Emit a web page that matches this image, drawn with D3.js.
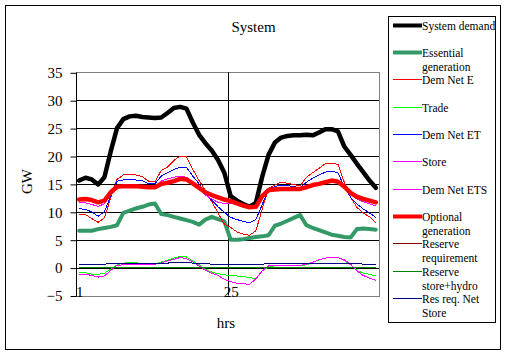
<!DOCTYPE html>
<html><head><meta charset="utf-8">
<script src="https://cdn.jsdelivr.net/npm/d3@7"></script>
<style>html,body{margin:0;padding:0;background:#fff;}svg{display:block;}</style>
</head><body>
<svg id="chart" width="507" height="355"></svg>
<script>
const categories = [1,2,3,4,5,6,7,8,9,10,11,12,13,14,15,16,17,18,19,20,21,22,23,24,25,26,27,28,29,30,31,32,33,34,35,36,37,38,39,40,41,42,43,44,45,46,47,48];
const xTickLabels = [1, 25];
const yTicks = [-5, 0, 5, 10, 15, 20, 25, 30, 35];

const systemDemand = [15.6,16.1,15.8,14.9,16.2,20.8,25.0,26.6,27.1,27.2,27.0,26.9,26.8,26.9,27.7,28.6,28.8,28.5,26.0,23.8,22.3,21.0,19.3,17.0,12.8,12.0,11.4,10.9,11.6,16.3,20.2,22.4,23.3,23.6,23.7,23.7,23.8,23.7,24.2,24.8,24.8,24.4,21.7,20.2,18.6,17.1,15.6,14.3];
const essentialGen = [6.6,6.6,6.6,6.9,7.1,7.3,7.6,9.8,10.2,10.6,10.9,11.3,11.5,9.6,9.4,9.1,8.8,8.5,8.2,7.7,8.6,9.1,8.7,8.3,5.0,5.0,5.1,5.3,5.5,5.6,5.8,7.5,7.9,8.4,8.9,9.4,7.6,7.1,6.7,6.3,5.9,5.7,5.5,5.4,6.9,7.0,6.9,6.8];
const demNetE = [9.6,9.5,8.8,8.1,8.9,12.5,15.8,16.6,16.6,16.6,16.3,15.5,15.4,17.4,18.0,19.2,20.0,19.9,17.6,15.6,13.8,11.8,9.8,7.8,7.2,6.4,6.0,5.8,6.6,10.5,14.2,14.8,15.3,15.1,14.9,14.6,16.2,17.0,17.8,18.6,18.7,18.5,15.3,12.6,10.8,9.8,9.1,8.0];
const trade = [-0.9,-0.9,-1.2,-1.2,-1.0,-0.3,0.5,0.8,0.9,0.9,0.7,0.7,0.6,1.0,1.3,1.7,2.0,1.9,1.2,0.5,-0.3,-0.8,-1.1,-1.3,-1.4,-1.5,-1.6,-1.8,-2.0,-0.6,0.2,0.3,0.3,0.3,0.3,0.3,0.5,0.9,1.4,1.7,1.9,1.8,1.3,0.5,-0.5,-1.0,-1.2,-1.5];
const demNetET = [10.6,10.4,10.0,9.2,10.0,12.8,15.5,15.7,15.8,15.7,15.6,15.0,15.0,16.4,17.0,17.6,18.0,18.0,16.4,15.0,13.3,12.1,10.9,9.9,9.0,8.6,8.3,8.0,8.6,11.3,14.1,14.5,14.8,14.7,14.5,14.3,15.3,16.0,16.6,17.1,17.3,17.0,14.5,12.6,11.4,10.5,9.8,9.0];
const store = [-1.2,-1.2,-1.4,-1.7,-1.5,-0.5,0.4,0.5,0.5,0.5,0.5,0.5,0.6,0.8,1.2,1.5,1.8,1.6,1.0,0.3,-0.5,-1.0,-1.4,-2.1,-2.5,-2.8,-2.9,-3.0,-2.0,-0.6,0.3,0.4,0.4,0.4,0.4,0.4,0.6,1.0,1.4,1.7,1.9,1.8,1.4,0.6,-0.6,-1.4,-1.9,-2.3];
const demNetETS = [11.6,11.6,11.3,11.0,11.4,13.0,14.3,14.5,14.6,14.6,14.5,14.4,14.4,15.5,15.9,16.2,16.4,16.2,15.2,14.0,13.0,12.3,11.7,11.5,11.5,11.3,11.1,10.9,11.0,12.5,13.8,14.0,14.1,14.1,14.1,14.0,14.3,14.8,15.1,15.4,15.6,15.3,14.3,13.1,12.3,11.8,11.4,11.1];
const optionalGen = [12.2,12.3,12.1,11.7,12.0,13.5,14.5,14.6,14.6,14.6,14.5,14.4,14.4,15.0,15.2,15.5,15.9,15.8,15.1,14.3,13.5,13.0,12.6,12.2,11.9,11.5,11.1,10.8,10.9,12.8,13.9,14.0,14.1,14.1,14.1,14.1,14.4,14.8,15.0,15.3,15.6,15.4,14.5,13.4,12.7,12.3,12.0,11.7];
const reserveReq = [0.6,0.6,0.6,0.6,0.6,0.8,0.8,0.8,0.8,0.8,0.8,0.8,0.8,0.8,0.8,0.95,0.95,0.95,0.8,0.8,0.8,0.6,0.6,0.6,0.6,0.6,0.6,0.6,0.6,0.6,0.8,0.8,0.8,0.8,0.8,0.8,0.8,0.8,0.8,0.8,0.8,0.8,0.8,0.8,0.8,0.6,0.6,0.6];
const reserveStoreHydro = [0,0,0,0,0,0,0,0,0,0,0,0,0,0,0,0,0,0,0,0,0,0,0,0,0,0,0,0,0,0,0,0,0,0,0,0,0,0,0,0,0,0,0,0,0,0,0,0];
const resReqNetStore = [0.6,0.6,0.6,0.6,0.6,0.8,0.8,0.8,0.8,0.8,0.8,0.8,0.8,0.8,0.8,0.95,0.95,0.95,0.8,0.8,0.8,0.6,0.6,0.6,0.6,0.6,0.6,0.6,0.6,0.6,0.8,0.8,0.8,0.8,0.8,0.8,0.8,0.8,0.8,0.8,0.8,0.8,0.8,0.8,0.8,0.6,0.6,0.6];

const seriesNames = ["System demand","Essential generation","Dem Net E","Trade","Dem Net ET","Store","Dem Net ETS","Optional generation","Reserve requirement","Reserve store+hydro","Res req. Net Store"];
const legendLines = [["System demand"],["Essential","generation"],["Dem Net E"],["Trade"],["Dem Net ET"],["Store"],["Dem Net ETS"],["Optional","generation"],["Reserve","requirement"],["Reserve","store+hydro"],["Res req. Net","Store"]];
const seriesValues = [systemDemand, essentialGen, demNetE, trade, demNetET, store, demNetETS, optionalGen, reserveReq, reserveStoreHydro, resReqNetStore];
const seriesColors = ["#000000","#339966","#ff0000","#00ff00","#0000ff","#ff00ff","#ff00ff","#ff0000","#800000","#008000","#000080"];
const seriesWidths = [4.5,4,1,1,1,1,1,4.5,1,1,1];

const FONT = "'Liberation Serif','Times New Roman',serif";
const svg = d3.select("#chart");

// chart frame
svg.append("rect").attr("x",5.5).attr("y",5.5).attr("width",495).attr("height",344)
  .attr("fill","#fff").attr("stroke","#000").attr("stroke-width",1);

const plot = {left:76, right:379, top:72.3, bottom:295.5};
const x = d3.scalePoint().domain(categories).range([plot.left, plot.right]).padding(0.5);
const y = d3.scaleLinear().domain([-5,35]).range([plot.bottom, plot.top]);

// gridlines
svg.append("g").selectAll("line").data(yTicks.filter(t => t > -5 && t < 35)).join("line")
  .attr("x1",plot.left).attr("x2",plot.right)
  .attr("y1",d=>Math.round(y(d))+0.5).attr("y2",d=>Math.round(y(d))+0.5)
  .attr("stroke","#000").attr("stroke-width",1);

// plot border (gray)
svg.append("rect").attr("x",plot.left+0.5).attr("y",Math.round(plot.top)+0.5)
  .attr("width",plot.right-plot.left).attr("height",Math.round(plot.bottom)-Math.round(plot.top))
  .attr("fill","none").attr("stroke","#808080").attr("stroke-width",1);

// vertical line at category 25 boundary
const step = x.step();
const vx = Math.round(x(25) - step/2) + 0.5;
svg.append("line").attr("x1",vx).attr("x2",vx).attr("y1",plot.top).attr("y2",plot.bottom)
  .attr("stroke","#000").attr("stroke-width",1);

// y axis
const yAxis = d3.axisLeft(y).tickValues(yTicks).tickSize(6).tickPadding(8).tickFormat(d3.format("d"));
const gy = svg.append("g").attr("transform",`translate(${plot.left+0.5},0.5)`).call(yAxis);
gy.select(".domain").attr("stroke","#000").attr("d",`M0,${Math.round(plot.top)}V${Math.round(plot.bottom)}`);
gy.selectAll(".tick line").attr("stroke","#000");
gy.selectAll(".tick text").attr("font-family",FONT).attr("font-size",15).attr("fill","#000");

// x tick labels
svg.append("g").selectAll("text").data(xTickLabels).join("text")
  .attr("x",d=>x(d)+0.5).attr("y",297)
  .attr("text-anchor","middle").attr("font-family",FONT).attr("font-size",15).attr("fill","#000")
  .text(d=>d);

// series lines
const line = d3.line().x((d,i)=>x(categories[i])).y(d=>y(d));
const gLines = svg.append("g");
seriesValues.forEach((vals,k)=>{
  const thick = seriesWidths[k] > 2;
  gLines.append("path").datum(vals).attr("d",line)
    .attr("fill","none").attr("stroke",seriesColors[k]).attr("stroke-width",seriesWidths[k])
    .attr("stroke-linejoin","round").attr("stroke-linecap", thick ? "round" : "butt")
    .attr("shape-rendering", thick ? "auto" : "crispEdges");
});

// title and axis titles
svg.append("text").attr("x",253.5).attr("y",31.5).attr("text-anchor","middle")
  .attr("font-family",FONT).attr("font-size",15).attr("fill","#000").text("System");
svg.append("text").attr("x",226).attr("y",328).attr("text-anchor","middle")
  .attr("font-family",FONT).attr("font-size",15).attr("fill","#000").text("hrs");
svg.append("text").attr("transform","translate(32,181.5) rotate(-90)").attr("text-anchor","middle")
  .attr("font-family",FONT).attr("font-size",15).attr("fill","#000").text("GW");

// legend
svg.append("rect").attr("x",388.5).attr("y",16.5).attr("width",107).attr("height",306)
  .attr("fill","#fff").attr("stroke","#000").attr("stroke-width",1);
const legendY = d3.scaleLinear().domain([0,10]).range([24.5, 298]);
const lg = svg.append("g");
seriesNames.forEach((name,k)=>{
  const yy = Math.round(legendY(k)) + 0.5;
  const thick = seriesWidths[k] > 2;
  lg.append("line").attr("x1",393).attr("x2",422).attr("y1",yy).attr("y2",yy)
    .attr("stroke",seriesColors[k]).attr("stroke-width",thick?4:1);
  const t = lg.append("text").attr("font-family",FONT).attr("font-size",11.5).attr("fill","#000");
  legendLines[k].forEach((ln,j)=>{
    t.append("tspan").attr("x",422).attr("y",yy+4+j*14.2).text(ln);
  });
});
</script>
</body></html>
